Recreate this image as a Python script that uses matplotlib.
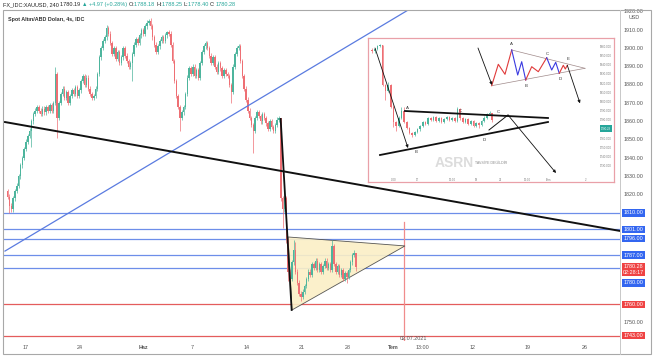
import numpy as np
import matplotlib
matplotlib.use("Agg")
import matplotlib.pyplot as plt
from matplotlib.patches import Polygon, Rectangle
from matplotlib.lines import Line2D

plt.rcParams['font.family'] = ['Liberation Sans', 'DejaVu Sans']

W, H = 654, 358

# ---------------- candle data: XAUUSD 4h bars, first bar ~13 May ----------------
first_open = 1822.0
closes = [
    1819, 1814, 1812, 1818, 1822, 1825,
    1830, 1836, 1840, 1845, 1849, 1852,
    1855, 1860, 1864, 1866, 1868, 1866,
    1864, 1867, 1865, 1868, 1866, 1869,
    1866, 1870, 1886, 1862, 1870, 1875,
    1878, 1873, 1876, 1870, 1874, 1877,
    1875, 1879, 1874, 1877, 1882, 1885,
    1880, 1884, 1878, 1875, 1873, 1874,
    1878, 1886, 1895, 1900, 1904, 1906,
    1911, 1908, 1903, 1897, 1900, 1894,
    1898, 1892, 1895, 1900, 1896, 1893,
    1890, 1892, 1897, 1902, 1905, 1903,
    1907, 1910, 1908, 1912, 1914, 1915,
    1912, 1906, 1902, 1898, 1901, 1904,
    1906, 1904, 1907, 1909, 1908, 1902,
    1893, 1882, 1874, 1868, 1862, 1865,
    1868, 1875, 1884, 1889, 1886, 1890,
    1885, 1888, 1884, 1892, 1898, 1901,
    1903, 1900, 1896, 1892, 1895, 1890,
    1887, 1892, 1889, 1885, 1888, 1886,
    1885, 1880, 1876, 1890, 1897, 1900,
    1901, 1893, 1885, 1878, 1872, 1866,
    1862, 1858, 1855, 1862, 1865, 1863,
    1860, 1864, 1862, 1859, 1856, 1860,
    1857, 1855, 1858, 1861, 1862, 1818,
    1812, 1818, 1795, 1778, 1774, 1783,
    1790, 1778, 1772, 1766, 1764, 1767,
    1770, 1774, 1778, 1776, 1782, 1780,
    1784, 1779, 1782, 1778, 1781, 1784,
    1780, 1782, 1779, 1792, 1782, 1778,
    1781, 1776, 1779, 1774, 1777, 1775,
    1779, 1783, 1787, 1788.18, 1780.28,
]
spike_high = {26: 1890, 54: 1913, 78: 1916.5, 87: 1909.5, 149: 1862, 151: 1822,
              156: 1795, 157: 1794, 177: 1795, 189: 1790, 190: 1788.25}
spike_low = {1: 1810, 13: 1846, 27: 1851, 68: 1882, 94: 1855, 122: 1870, 134: 1843,
             150: 1802, 153: 1773, 154: 1768, 160: 1762, 185: 1772, 190: 1778.40}
bar0_day = -1.667      # trading days relative to 17 May
bars_per_day = 6

# ---------------- drawings ----------------
blue_levels = [1810, 1801, 1796, 1787, 1780]
red_levels = [1760, 1743]
blue_trend = [(-1.91, 1789.2), (34.9, 1921.5)]
black_trend = [(-1.91, 1859.7), (54.0, 1800.2)]
drop_line = [(23.15, 1861.4), (24.15, 1757.0)]
triangle = [(23.82, 1796.9), (34.45, 1792.0), (24.18, 1757.0)]
vline_day, vline_top = 34.36, 1805.1

tick_days = [0, 4.91, 10.64, 15.09, 20.09, 25.09, 29.27, 33.36, 36.0, 40.64, 45.64, 50.82]
tick_labels = ['17', '24', 'Haz', '7', '14', '21', '28', 'Tem', '13:00', '12', '19', '26']
price_ticks = [1920, 1910, 1900, 1890, 1880, 1870, 1860, 1850, 1840, 1830, 1820, 1750]
box_texts = ['1810.00', '1801.00', '1796.00', '1787.00', '1780.28\n02:28:17', '1780.00',
             '1760.00', '1743.00']
box_prices = [1810, 1801, 1796, 1787, 1779.1, 1771.8, 1760, 1743]
box_kinds = ['b', 'b', 'b', 'b', 'r', 'b', 'r', 'r']

UP, DN = '#4db59d', '#ee6f74'
BLUE_BOX, RED_BOX = '#3366f0', '#ef4343'

fig = plt.figure(figsize=(W / 100, H / 100), dpi=100)
ax = fig.add_axes([3 / W, 1 - 341 / H, 617 / W, 331 / H])
ax.set_xlim(-23 / 11, 594 / 11)
ax.set_ylim(1740.05, 1920.93)
for s in ax.spines.values():
    s.set_visible(False)

# candles
c = np.array(closes, dtype=float)
o = np.r_[first_open, c[:-1]]
xs = bar0_day + np.arange(len(c)) / bars_per_day
hi = np.maximum(o, c) + 1.2
lo = np.minimum(o, c) - 1.2
for k, v in spike_high.items():
    hi[k] = v
for k, v in spike_low.items():
    lo[k] = v
cols = np.where(c >= o, UP, DN)
ax.vlines(xs, lo, hi, colors=cols, lw=0.5, zorder=3)
ax.bar(xs, np.maximum(np.abs(c - o), 0.5), bottom=np.minimum(o, c), width=0.13,
       color=cols, linewidth=0, zorder=3)

# levels
for p in blue_levels:
    ax.axhline(p, color='#6d8ee9', lw=0.9, zorder=2)
for p in red_levels:
    ax.axhline(p, color='#e45c5c', lw=0.9, zorder=2)
ax.plot(*zip(*blue_trend), color='#5a7be0', lw=0.9, zorder=4)
ax.plot(*zip(*black_trend), color='#111111', lw=1.4, zorder=4)
ax.add_patch(Polygon(triangle, closed=True, fc='#fbefc6', ec='#444444', lw=0.6,
                     alpha=0.9, zorder=2.5))
ax.plot(*zip(*drop_line), color='#111111', lw=1.3, zorder=4)
ax.plot([vline_day, vline_day], [1740.05, vline_top], color='#f08c8c', lw=0.9, zorder=2)
ax.text(vline_day + 0.9, 1741.4, '02.07.2021', fontsize=3.9, color='#555555',
        ha='center', va='center')

ax.set_xticks(tick_days)
ax.set_xticklabels(tick_labels)
ax.tick_params(axis='x', length=0, pad=2.6, labelsize=3.9, colors='#555555')
for t in ax.get_xticklabels():
    if t.get_text() in ('Haz', 'Tem'):
        t.set_fontweight('bold')
ax.set_yticks([])

ytr = ax.get_yaxis_transform()
for p in price_ticks:
    ax.text(1.0225, p, f'{p:.2f}', transform=ytr, fontsize=3.9, color='#555555',
            ha='center', va='center', clip_on=False)
ax.text(1.0225, 1916.9, 'USD', transform=ytr, fontsize=3.9, color='#555555',
        ha='center', va='center', clip_on=False)
for txt, p, k in zip(box_texts, box_prices, box_kinds):
    ax.text(1.0219, p, txt, transform=ytr, fontsize=3.9, color='white', ha='center',
            va='center', linespacing=1.05, clip_on=False, zorder=6,
            bbox=dict(boxstyle='square,pad=0.22', fc=BLUE_BOX if k == 'b' else RED_BOX,
                      ec='none'))

# frame
fig.add_artist(Rectangle((3 / W, 1 - 354 / H), 648 / W, 344 / H, transform=fig.transFigure,
                         fill=False, ec='#a8a8a8', lw=0.8))
fig.add_artist(Line2D([620 / W, 620 / W], [1 - 10 / H, 1 - 354 / H],
                      transform=fig.transFigure, color='#c8c8c8', lw=0.7))

# header legend
hdr = [('FX_IDC:XAUUSD, 240 ', '#222222'), ('1780.19 ', '#222222'),
       ('\u25b2 +4.97 (+0.28%) ', '#26a69a'), ('O:', '#222222'), ('1788.18 ', '#26a69a'),
       ('H:', '#222222'), ('1788.25 ', '#26a69a'), ('L:', '#222222'), ('1778.40 ', '#26a69a'),
       ('C:', '#222222'), ('1780.28', '#26a69a')]
r = fig.canvas.get_renderer()
xpos = 3
for txt, col in hdr:
    t = fig.text(xpos / W, 1 - 4.5 / H, txt, fontsize=4.0, color=col, va='center')
    xpos += t.get_window_extent(r).width
fig.text(8 / W, 1 - 19 / H, 'Spot Altın/ABD Doları, 4s, IDC', fontsize=3.9,
         fontweight='bold', color='#333333', va='center')

# ---------------- inset (pasted pattern sketch) ----------------
ins_rect = [368 / W, 1 - 182 / H, 246 / W, 144 / H]
ins = fig.add_axes(ins_rect)
ins.set_facecolor('white')
for s in ins.spines.values():
    s.set_color('#e9a0a8')
    s.set_linewidth(0.9)
ins.set_xticks([])
ins.set_yticks([])
ins.set_xlim(143.5, 235.6)
ins.set_ylim(1712.8, 1869.6)
idx = np.arange(145, 191)
ins.vlines(idx, lo[idx], hi[idx], colors=cols[idx], lw=0.5)
ins.bar(idx, np.maximum(np.abs(c[idx] - o[idx]), 0.5),
        bottom=np.minimum(o[idx], c[idx]), width=0.6, color=cols[idx], linewidth=0)
inset_prices = list(range(1730, 1861, 10))
for p in inset_prices:
    if p != 1770:
        ins.text(232.6, p, f'{p}.000', fontsize=2.0, color='#777777', ha='center',
                 va='center')
ins.text(232.6, 1771, '1780.28', fontsize=2.0, color='white', ha='center', va='center',
         bbox=dict(boxstyle='square,pad=0.4', fc='#26a69a', ec='none'))
inset_time_idx = [153, 162, 175, 184, 193, 203, 211, 225]
inset_time_lbl = ['0:00', '17', '12:00', '18', '21', '12:00', 'Tem', '2']
for xi, tl in zip(inset_time_idx, inset_time_lbl):
    ins.text(xi, 1715.5, tl, fontsize=2.0, color='#777777', ha='center', va='center')

d = fig.add_axes(ins_rect)
d.set_xlim(0, 246)
d.set_ylim(144, 0)
d.axis('off')
d.patch.set_alpha(0)

arrow = dict(arrowstyle='-|>', color='#111111', lw=0.6, mutation_scale=4, shrinkA=0, shrinkB=0)
d.annotate('', xy=(40, 110), xytext=(7, 10), arrowprops=arrow)
lower_tl = [(12, 117), (180, 84)]
upper_tl = [(37, 73), (180, 80)]
d.plot(*zip(*lower_tl), color='#111111', lw=1.3)
d.plot(*zip(*upper_tl), color='#111111', lw=1.3)
proj = [(121, 92), (140, 77)]
d.plot(*zip(*proj), color='#111111', lw=0.7)
d.annotate('', xy=(188, 135), xytext=(140, 77), arrowprops=arrow)
for lbl, (lx, ly) in zip(['A', 'B', 'C', 'D', 'C'],
                         [(39, 70), (48, 114), (92, 73), (116, 102), (130, 74)]):
    d.text(lx, ly, lbl, fontsize=3.2, color='#333333', ha='center', va='center')

# schematic triangle
d.annotate('', xy=(124, 47), xytext=(110, 10), arrowprops=arrow)
d.plot([143.7, 217], [12, 30.3], color='#a08a8a', lw=0.5)
d.plot([123.7, 217], [47.7, 30.3], color='#a08a8a', lw=0.5)
wave_a = [(123.7, 47.7), (130.3, 26.3), (137, 36.3), (143.7, 12)]
wave_b = [(143.7, 12), (149.7, 37), (153.7, 23.7), (157.7, 42)]
wave_c = [(157.7, 42), (163.7, 28.7), (170.3, 33.7), (178.7, 19.7)]
wave_d = [(178.7, 19.7), (183.7, 32), (187.7, 24.3), (191.3, 35.3)]
wave_e = [(191.3, 35.3), (195.3, 27.3), (197.3, 31), (199.3, 27.3)]
for w, col in zip([wave_a, wave_b, wave_c, wave_d, wave_e],
                  ['#e03a3a', '#3a3ae0', '#e03a3a', '#3a3ae0', '#e03a3a']):
    d.plot(*zip(*w), color=col, lw=0.8)
d.annotate('', xy=(212, 65.3), xytext=(199.3, 27.3), arrowprops=arrow)
for lbl, (lx, ly) in zip('ABCDE', [(143.7, 6.3), (158, 47.7), (179.7, 16.3), (192, 41.3),
                                    (200, 21.3)]):
    d.text(lx, ly, lbl, fontsize=3.2, color='#333333', ha='center', va='center')

d.text(86, 125, 'ASRN', fontsize=10, fontweight='bold', color='#dcdcdc', ha='center',
       va='center')
d.text(107, 125, 'TAVSİYE DEĞİLDİR', fontsize=2.6, color='#8a8a8a', ha='left', va='center')

fig.savefig('out.png', dpi=100)
